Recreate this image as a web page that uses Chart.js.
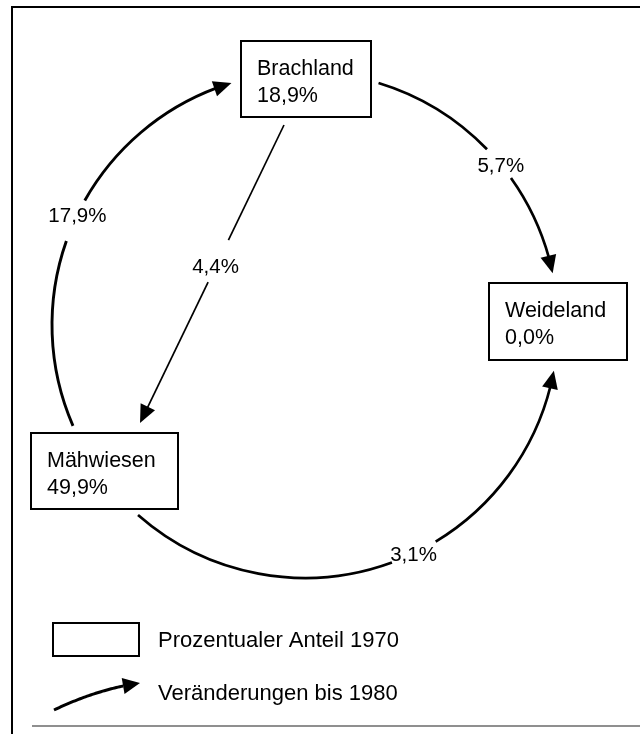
<!DOCTYPE html>
<html>
<head>
<meta charset="utf-8">
<script src="https://cdn.jsdelivr.net/npm/chart.js@4/dist/chart.umd.min.js"></script>
<style>
html,body{margin:0;padding:0;background:#fff;}
#wrap{width:640px;height:734px;}
canvas{display:block;}
</style>
</head>
<body>
<div id="wrap"><canvas id="c" width="640" height="734"></canvas></div>
<script>
// ---------- data ----------
const categories   = ['Brachland', 'Weideland', 'Mähwiesen'];
const share1970    = [18.9, 0.0, 49.9];
const flowFrom     = ['Mähwiesen', 'Brachland', 'Brachland', 'Mähwiesen'];
const flowTo       = ['Brachland', 'Weideland', 'Mähwiesen', 'Weideland'];
const flowChange   = [17.9, 5.7, 4.4, 3.1];
const legendLabels = ['Prozentualer Anteil 1970', 'Veränderungen bis 1980'];

const fmt = v => v.toFixed(1).replace('.', ',') + '%';

// ---------- layout (in scale units, 0..640 x 0..734) ----------
const layout = {
  ring: {cx: 305, cy: 325, r: 253},
  boxes: {
    'Brachland': {x: 241, y: 41,  w: 130, h: 76},
    'Weideland': {x: 489, y: 283, w: 138, h: 77},
    'Mähwiesen': {x: 31,  y: 433, w: 147, h: 76}
  },
  flowShapes: [
    {kind: 'arc',  a0: 156.5, a1: 253.1, gap: [199.4, 209.5], label: 205.9, lw: 2.9},
    {kind: 'arc',  a0: -73.1, a1: -11.8, gap: [-44.0, -35.5], label: -39.3, lw: 2.7},
    {kind: 'line', p0: [284, 125], p1: [140, 423], gap: [0.386, 0.527], label: [215.5, 265], lw: 1.7},
    {kind: 'arc',  a0: 131.3, a1: 10.4,  gap: [69.9, 58.9],  label: 64.6,  lw: 2.7}
  ],
  legend: {box: {x: 53, y: 623, w: 86, h: 33}, textX: 158, base1: 647, base2: 700,
           arrow: {p0: [54, 710], c: [98, 689], p1: [140, 683]}},
  frame: {left: 12, top: 7, bottom: 726}
};

const FONT = "'Liberation Sans', Arial, Helvetica, sans-serif";

const nodeData = categories.map(c => {
  const b = layout.boxes[c];
  return {x: b.x + b.w / 2, y: b.y + b.h / 2};
});

function arrowHead(ctx, bx, by, tx, ty, halfW) {
  const dx = tx - bx, dy = ty - by;
  const len = Math.hypot(dx, dy) || 1;
  const nx = -dy / len, ny = dx / len;
  ctx.beginPath();
  ctx.moveTo(tx, ty);
  ctx.lineTo(bx + nx * halfW, by + ny * halfW);
  ctx.lineTo(bx - nx * halfW, by - ny * halfW);
  ctx.closePath();
  ctx.fill();
}

const diagramPlugin = {
  id: 'diagram',
  afterDatasetsDraw(chart) {
    const ctx = chart.ctx;
    const xs = chart.scales.x, ys = chart.scales.y;
    const X = v => xs.getPixelForValue(v);
    const Y = v => ys.getPixelForValue(v);
    const S = v => X(v) - X(0);
    const rad = d => d * Math.PI / 180;

    ctx.save();
    ctx.strokeStyle = '#000';
    ctx.fillStyle = '#000';
    ctx.lineCap = 'butt';

    // frame
    const fr = layout.frame;
    ctx.lineWidth = 2;
    ctx.beginPath();
    ctx.moveTo(X(fr.left), Y(734));
    ctx.lineTo(X(fr.left), Y(fr.top));
    ctx.lineTo(X(640), Y(fr.top));
    ctx.stroke();
    ctx.strokeStyle = '#6a6a6a';
    ctx.lineWidth = 1.5;
    ctx.beginPath();
    ctx.moveTo(X(fr.left + 20), Y(fr.bottom));
    ctx.lineTo(X(640), Y(fr.bottom));
    ctx.stroke();
    ctx.strokeStyle = '#000';

    // nodes
    const meta = chart.getDatasetMeta(0);
    ctx.textAlign = 'left';
    ctx.textBaseline = 'alphabetic';
    categories.forEach((c, i) => {
      const b = layout.boxes[c];
      const el = meta.data[i];
      const w = S(b.w), h = S(b.h);
      const x0 = el.x - w / 2, y0 = el.y - h / 2;
      ctx.lineWidth = 2;
      ctx.strokeRect(x0, y0, w, h);
      ctx.font = '21.5px ' + FONT;
      ctx.fillText(c, x0 + S(16), y0 + S(34));
      ctx.fillText(fmt(share1970[i]), x0 + S(16), y0 + S(61));
    });

    // flows
    const {cx, cy, r} = layout.ring;
    const PX = X(cx), PY = Y(cy), R = S(r);
    const AL = 18, AH = 8;
    flowChange.forEach((v, i) => {
      const f = layout.flowShapes[i];
      ctx.lineWidth = f.lw;
      let lx, ly;
      if (f.kind === 'arc') {
        const dir = f.a1 > f.a0 ? 1 : -1;
        const acw = dir < 0;
        const a0 = rad(f.a0), a1 = rad(f.a1);
        const aBase = a1 - dir * (AL / R);
        const g0 = rad(f.gap[0]), g1 = rad(f.gap[1]);
        ctx.beginPath();
        ctx.arc(PX, PY, R, a0, g0, acw);
        ctx.stroke();
        ctx.beginPath();
        ctx.arc(PX, PY, R, g1, aBase + dir * 0.01, acw);
        ctx.stroke();
        const tx = PX + R * Math.cos(a1), ty = PY + R * Math.sin(a1);
        const bx = PX + R * Math.cos(aBase), by = PY + R * Math.sin(aBase);
        arrowHead(ctx, bx, by, tx, ty, AH);
        const la = rad(f.label);
        lx = PX + R * Math.cos(la); ly = PY + R * Math.sin(la);
      } else {
        const x0 = X(f.p0[0]), y0 = Y(f.p0[1]), x1 = X(f.p1[0]), y1 = Y(f.p1[1]);
        const L = Math.hypot(x1 - x0, y1 - y0);
        const tb = 1 - AL / L;
        const pt = t => [x0 + (x1 - x0) * t, y0 + (y1 - y0) * t];
        ctx.beginPath();
        ctx.moveTo(x0, y0);
        ctx.lineTo(...pt(f.gap[0]));
        ctx.stroke();
        ctx.beginPath();
        ctx.moveTo(...pt(f.gap[1]));
        ctx.lineTo(...pt(tb + 0.01));
        ctx.stroke();
        const [bx, by] = pt(tb);
        arrowHead(ctx, bx, by, x1, y1, AH);
        lx = X(f.label[0]); ly = Y(f.label[1]);
      }
      ctx.font = '20.5px ' + FONT;
      ctx.textAlign = 'center';
      ctx.textBaseline = 'alphabetic';
      ctx.fillText(fmt(v), lx, ly + 7.5);
    });

    // legend
    const lg = layout.legend;
    ctx.lineWidth = 2;
    ctx.strokeRect(X(lg.box.x), Y(lg.box.y), S(lg.box.w), S(lg.box.h));
    const a = lg.arrow;
    ctx.lineWidth = 3;
    const p0 = [X(a.p0[0]), Y(a.p0[1])], c = [X(a.c[0]), Y(a.c[1])], p1 = [X(a.p1[0]), Y(a.p1[1])];
    const q = t => [
      (1 - t) * (1 - t) * p0[0] + 2 * (1 - t) * t * c[0] + t * t * p1[0],
      (1 - t) * (1 - t) * p0[1] + 2 * (1 - t) * t * c[1] + t * t * p1[1]
    ];
    ctx.beginPath();
    ctx.moveTo(...p0);
    for (let t = 0.02; t <= 0.82; t += 0.02) ctx.lineTo(...q(t));
    ctx.stroke();
    const base = q(0.80);
    arrowHead(ctx, base[0], base[1], p1[0], p1[1], AH);
    ctx.font = '22px ' + FONT;
    ctx.textAlign = 'left';
    ctx.fillText(legendLabels[0], X(lg.textX), Y(lg.base1));
    ctx.fillText(legendLabels[1], X(lg.textX), Y(lg.base2));

    ctx.restore();
  }
};

new Chart(document.getElementById('c'), {
  type: 'scatter',
  data: {
    datasets: [{
      label: 'Nutzung 1970',
      data: nodeData,
      pointRadius: 0,
      pointHoverRadius: 0
    }]
  },
  options: {
    responsive: false,
    animation: false,
    layout: {padding: 0},
    events: [],
    scales: {
      x: {type: 'linear', min: 0, max: 640, display: false},
      y: {type: 'linear', min: 0, max: 734, reverse: true, display: false}
    },
    plugins: {legend: {display: false}, tooltip: {enabled: false}}
  },
  plugins: [diagramPlugin]
});
</script>
</body>
</html>
